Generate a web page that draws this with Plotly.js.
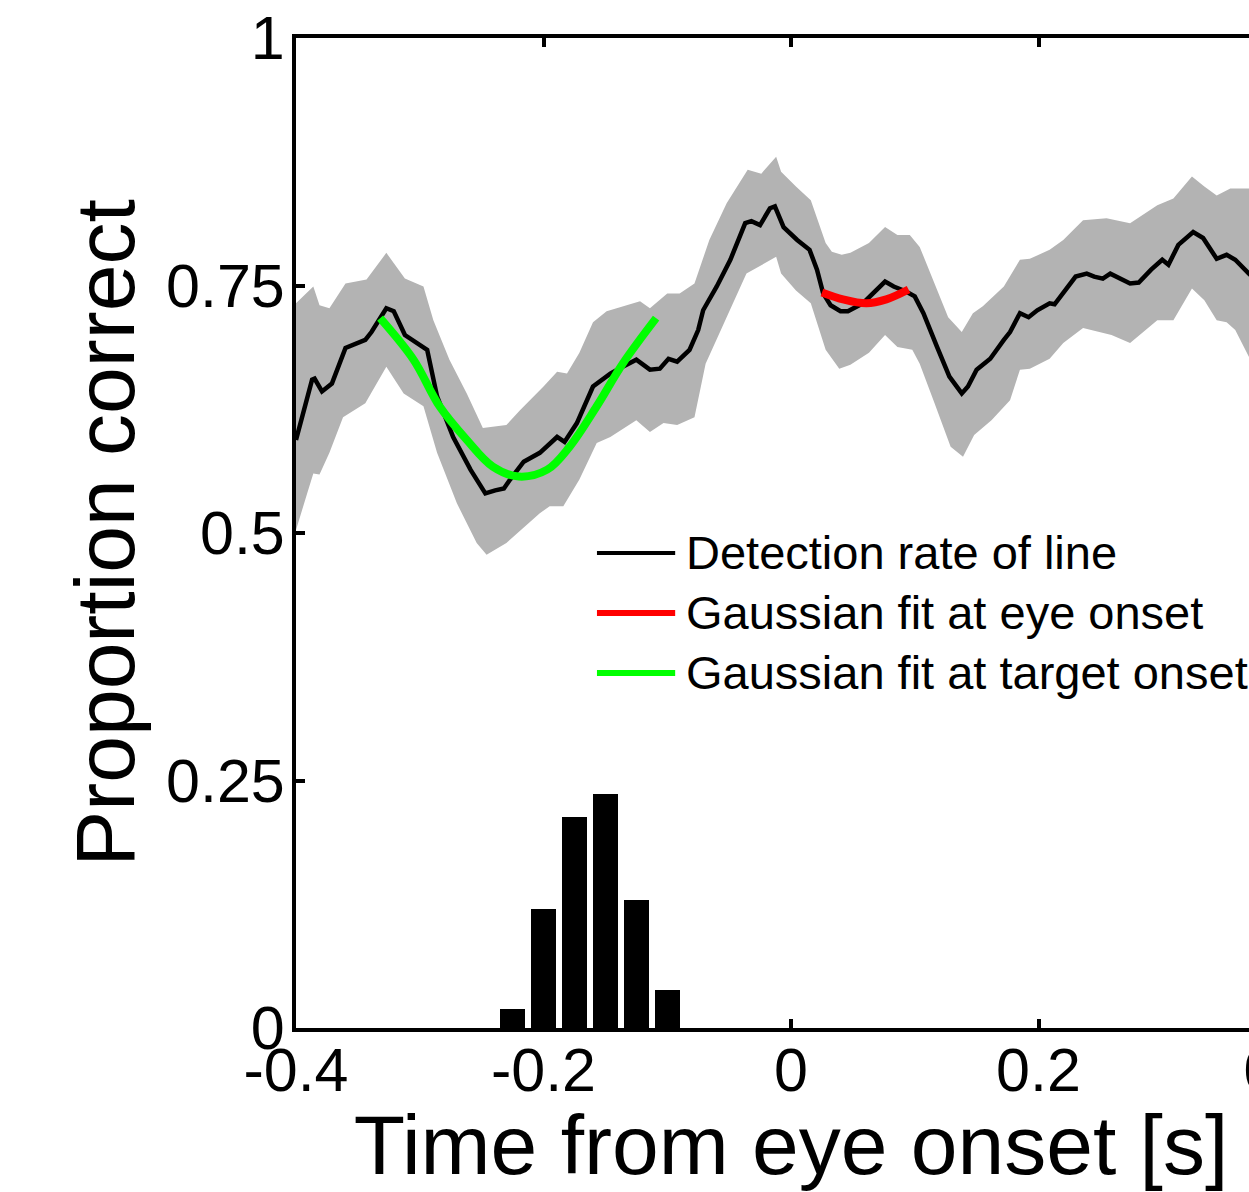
<!DOCTYPE html>
<html>
<head>
<meta charset="utf-8">
<script src="https://cdn.plot.ly/plotly-3.0.1.min.js"></script>
<style>
  html, body { margin: 0; padding: 0; background: #ffffff; overflow: hidden; }
  #chart { width: 1346px; height: 1192px; }
</style>
</head>
<body>
<div id="chart"></div>
<script>
// ---- Data ----
// Mean detection rate (time in s, proportion correct)
const meanT = [-0.400,-0.394,-0.387,-0.385,-0.379,-0.371,-0.360,-0.344,-0.339,-0.327,-0.321,-0.312,-0.297,-0.294,-0.286,-0.273,-0.259,-0.247,-0.239,-0.232,-0.227,-0.216,-0.203,-0.189,-0.183,-0.173,-0.160,-0.146,-0.136,-0.125,-0.114,-0.106,-0.099,-0.092,-0.082,-0.075,-0.071,-0.060,-0.049,-0.037,-0.032,-0.025,-0.017,-0.013,-0.006,0.005,0.015,0.021,0.026,0.032,0.040,0.046,0.058,0.069,0.076,0.083,0.093,0.100,0.107,0.118,0.128,0.138,0.143,0.150,0.161,0.172,0.177,0.185,0.192,0.199,0.209,0.213,0.221,0.230,0.239,0.245,0.252,0.258,0.274,0.281,0.291,0.300,0.305,0.313,0.325,0.333,0.344,0.352,0.359,0.370,0.385];
const meanRate = [0.594,0.621,0.655,0.656,0.643,0.651,0.687,0.695,0.703,0.727,0.724,0.700,0.688,0.685,0.638,0.597,0.564,0.540,0.543,0.545,0.554,0.572,0.581,0.597,0.592,0.611,0.648,0.661,0.668,0.675,0.665,0.666,0.676,0.673,0.685,0.705,0.725,0.749,0.776,0.813,0.815,0.811,0.828,0.830,0.809,0.796,0.786,0.766,0.742,0.730,0.724,0.724,0.732,0.745,0.754,0.749,0.744,0.739,0.722,0.688,0.658,0.641,0.648,0.665,0.676,0.695,0.703,0.722,0.718,0.725,0.732,0.731,0.745,0.759,0.762,0.759,0.757,0.762,0.752,0.753,0.766,0.776,0.771,0.791,0.804,0.798,0.777,0.781,0.776,0.762,0.745];

// Confidence band, upper edge
const upperT = [-0.400,-0.386,-0.381,-0.373,-0.360,-0.343,-0.327,-0.312,-0.297,-0.289,-0.276,-0.262,-0.249,-0.230,-0.219,-0.200,-0.189,-0.181,-0.171,-0.160,-0.149,-0.133,-0.122,-0.114,-0.100,-0.090,-0.078,-0.066,-0.052,-0.035,-0.024,-0.012,-0.008,0.004,0.016,0.028,0.033,0.041,0.048,0.063,0.076,0.086,0.096,0.104,0.116,0.127,0.138,0.147,0.155,0.172,0.185,0.193,0.209,0.220,0.236,0.255,0.274,0.296,0.309,0.324,0.334,0.344,0.355,0.370,0.385];
const upperRate = [0.732,0.749,0.730,0.727,0.752,0.756,0.783,0.757,0.749,0.715,0.675,0.641,0.606,0.609,0.624,0.648,0.663,0.661,0.682,0.713,0.724,0.730,0.734,0.727,0.742,0.742,0.752,0.796,0.833,0.867,0.863,0.880,0.865,0.850,0.836,0.793,0.784,0.781,0.783,0.793,0.809,0.801,0.801,0.789,0.752,0.718,0.703,0.722,0.729,0.749,0.776,0.777,0.786,0.796,0.816,0.818,0.813,0.831,0.838,0.860,0.850,0.841,0.848,0.848,0.835];

// Confidence band, lower edge
const lowerT = [-0.400,-0.391,-0.386,-0.381,-0.373,-0.362,-0.344,-0.327,-0.313,-0.297,-0.286,-0.270,-0.254,-0.246,-0.230,-0.216,-0.203,-0.195,-0.184,-0.171,-0.157,-0.146,-0.125,-0.114,-0.103,-0.092,-0.078,-0.069,-0.060,-0.052,-0.036,-0.022,-0.012,-0.008,0.004,0.016,0.028,0.039,0.048,0.063,0.076,0.086,0.098,0.104,0.116,0.129,0.139,0.148,0.162,0.177,0.185,0.193,0.209,0.220,0.236,0.259,0.274,0.296,0.309,0.324,0.334,0.344,0.352,0.359,0.370,0.385];
const lowerRate = [0.503,0.540,0.560,0.559,0.581,0.617,0.631,0.668,0.641,0.628,0.581,0.530,0.490,0.478,0.490,0.506,0.520,0.527,0.527,0.554,0.591,0.597,0.614,0.602,0.611,0.609,0.617,0.671,0.695,0.718,0.762,0.772,0.779,0.762,0.745,0.732,0.685,0.666,0.670,0.682,0.700,0.688,0.685,0.671,0.631,0.587,0.577,0.599,0.614,0.634,0.665,0.666,0.676,0.692,0.707,0.700,0.692,0.715,0.715,0.747,0.735,0.715,0.713,0.705,0.678,0.655];

// Gaussian fit at eye onset (red)
const eyeFitT = [0.025,0.042,0.061,0.077,0.095];
const eyeFitRate = [0.743,0.736,0.732,0.736,0.746];

// Gaussian fit at target onset (green)
const targetFitT = [-0.332,-0.305,-0.284,-0.262,-0.241,-0.220,-0.197,-0.179,-0.157,-0.136,-0.109];
const targetFitRate = [0.717,0.675,0.628,0.594,0.567,0.557,0.564,0.587,0.628,0.671,0.717];

// Histogram of target onset times
const histT = [-0.225,-0.200,-0.175,-0.150,-0.125,-0.100];
const histP = [0.0195,0.120,0.2134,0.2367,0.1296,0.0384];

// Tick labels and texts
const xTickVals = [-0.4,-0.2,0,0.2,0.4];
const xTickText = ['-0.4','-0.2','0','0.2','0.4'];
const yTickVals = [0,0.25,0.5,0.75,1];
const yTickText = ['0','0.25','0.5','0.75','1'];
const legendLabels = ['Detection rate of line','Gaussian fit at eye onset','Gaussian fit at target onset'];
const legendColors = ['#000000','#ff0000','#00ff00'];
const xTitle = 'Time from eye onset [s]';
const yTitle = 'Proportion correct';

// ---- Traces ----
const bandX = upperT.concat(lowerT.slice().reverse());
const bandY = upperRate.concat(lowerRate.slice().reverse());

const traces = [
  { type: 'scatter', mode: 'lines', x: bandX, y: bandY, fill: 'toself',
    fillcolor: '#b3b3b3', line: { width: 0, color: '#b3b3b3' }, showlegend: false, hoverinfo: 'skip' },
  { type: 'bar', x: histT, y: histP, width: 0.0205,
    marker: { color: '#000000', line: { width: 0 } }, showlegend: false },
  { type: 'scatter', mode: 'lines', x: meanT, y: meanRate, name: legendLabels[0],
    line: { color: legendColors[0], width: 4.5 }, showlegend: false },
  { type: 'scatter', mode: 'lines', x: eyeFitT, y: eyeFitRate, name: legendLabels[1],
    line: { color: legendColors[1], width: 8, shape: 'spline' }, showlegend: false },
  { type: 'scatter', mode: 'lines', x: targetFitT, y: targetFitRate, name: legendLabels[2],
    line: { color: legendColors[2], width: 8, shape: 'spline' }, showlegend: false }
];

// ---- Manual legend (no box) ----
const legY = [0.4798, 0.4192, 0.3586];
const legWidths = [4, 6, 6];
const shapes = [];
const annotations = [];
for (let i = 0; i < legendLabels.length; i++) {
  shapes.push({ type: 'line', xref: 'paper', yref: 'paper', x0: 0.304, x1: 0.383,
    y0: legY[i], y1: legY[i], line: { color: legendColors[i], width: legWidths[i] } });
  annotations.push({ xref: 'paper', yref: 'paper', x: 0.392, y: legY[i], text: legendLabels[i],
    showarrow: false, xanchor: 'left', yanchor: 'middle',
    font: { family: 'Liberation Sans, Arial, sans-serif', size: 47, color: '#000000' } });
}

const axisCommon = {
  showgrid: false, zeroline: false, showline: true, linecolor: '#000000', linewidth: 4,
  mirror: 'ticks', ticks: 'inside', ticklen: 9, tickwidth: 4, tickcolor: '#000000',
  tickfont: { family: 'Liberation Sans, Arial, sans-serif', size: 61, color: '#000000' },
  automargin: false
};

const layout = {
  width: 1346, height: 1192,
  margin: { l: 296, r: 60, t: 38, b: 164 },
  paper_bgcolor: '#ffffff', plot_bgcolor: '#ffffff',
  font: { family: 'Liberation Sans, Arial, sans-serif', color: '#000000' },
  showlegend: false,
  bargap: 0,
  xaxis: Object.assign({}, axisCommon, {
    range: [-0.4, 0.4], tickmode: 'array', tickvals: xTickVals, ticktext: xTickText,
    ticklabelstandoff: -14,
    title: { text: xTitle, font: { family: 'Liberation Sans, Arial, sans-serif', size: 84, color: '#000000' }, standoff: 10 }
  }),
  yaxis: Object.assign({}, axisCommon, {
    range: [0, 1], tickmode: 'array', tickvals: yTickVals, ticktext: yTickText,
    ticklabelstandoff: -5,
    title: { text: yTitle, font: { family: 'Liberation Sans, Arial, sans-serif', size: 84, color: '#000000' }, standoff: 5 }
  }),
  shapes: shapes,
  annotations: annotations
};

Plotly.newPlot('chart', traces, layout, { displayModeBar: false, staticPlot: true });
</script>
</body>
</html>
